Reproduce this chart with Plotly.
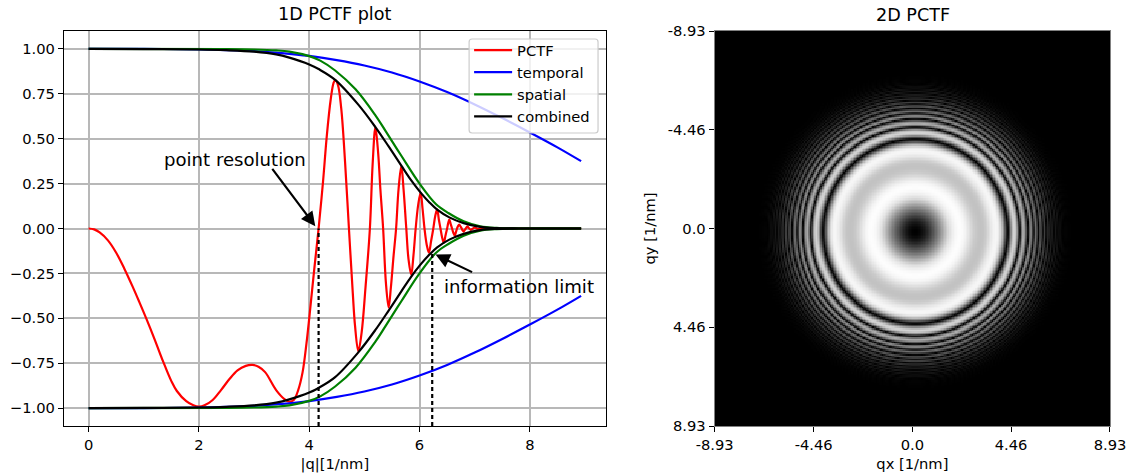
import numpy as np
import plotly.graph_objects as go

# ---- values ----
Q_PCTF = [0,0.1,0.2,0.35,0.5,0.65,0.8,0.92,1.05,1.2,1.35,1.5,1.6,1.77,1.9,2.0,2.1,2.25,2.4,2.55,2.7,2.85,2.97,3.08,3.2,3.4,3.55,3.64,3.72,3.8,3.88,3.95,4.0,4.09,4.17,
          4.25,4.32,4.39,4.44,4.47,4.52,4.58,4.65,4.72,4.79,4.83,4.89,4.95,5.02,5.10,5.15,5.20,5.25,5.29,5.34,5.39,5.44,5.48,5.53,5.575,5.62,5.67,5.71,5.76,5.80,5.85,5.89,5.93,5.975,6.02,6.055,6.09,6.13,6.17,6.21,6.25,6.285,6.32,6.35,6.38,6.41,6.44,6.47,6.5,6.52,6.54,6.57,6.59,6.615,6.64,6.66,6.68,6.7,6.72,6.745,6.765,6.78,6.8,6.82,6.84,6.855,6.87,6.885,6.9,6.915,6.93,6.95,6.97,7.01,7.035,7.06,7.09,7.13,7.16,7.25,8.0,8.93]
PCTF = [0,-0.005,-0.022,-0.066,-0.135,-0.225,-0.325,-0.41,-0.505,-0.62,-0.74,-0.85,-0.905,-0.962,-0.985,-0.992,-0.985,-0.955,-0.90,-0.84,-0.79,-0.765,-0.76,-0.77,-0.80,-0.90,-0.95,-0.965,-0.955,-0.90,-0.80,-0.64,-0.5,-0.23,0,
        0.26,0.52,0.72,0.81,0.827,0.80,0.67,0.37,0,-0.36,-0.54,-0.684,-0.58,-0.33,0,0.36,0.563,0.42,0.22,0,-0.3,-0.44,-0.33,-0.15,0,0.22,0.347,0.22,0,-0.17,-0.257,-0.15,0,0.13,0.2,0.11,0,-0.09,-0.135,-0.07,0,0.07,0.106,0.05,0,-0.05,-0.08,-0.04,0,0.03,0.05,0.02,0,-0.025,-0.04,-0.02,0,0.015,0.022,0.01,0,-0.01,-0.017,-0.008,0,0.007,0.012,0.006,0,-0.004,-0.008,-0.004,0,0.006,0,-0.003,0,0.002,0,0,0,0]

Q_TEMPORAL = [0,1,2,2.5,3,3.5,4,4.5,5,5.5,6,6.5,7,7.5,8,8.5,8.93]
TEMPORAL = [1,1,0.998,0.994,0.988,0.977,0.961,0.938,0.908,0.869,0.819,0.76,0.691,0.615,0.535,0.452,0.375]

Q_SPATIAL = [0,2.5,3,3.4,3.64,4,4.2,4.47,4.84,5.2,5.38,5.67,6.0,6.3,6.53,6.8,7.1,7.4,7.8,8.93]
SPATIAL = [1,0.999,0.997,0.992,0.985,0.96,0.935,0.88,0.775,0.63,0.545,0.405,0.25,0.135,0.085,0.04,0.012,0.003,0,0]

Q_COMBINED = [0,1,2,2.5,3,3.4,3.64,4,4.17,4.47,4.89,5.2,5.44,5.67,5.85,6.02,6.18,6.32,6.54,6.8,7.1,7.4,7.8,8.93]
COMBINED = [1,0.999,0.997,0.993,0.985,0.97,0.952,0.914,0.888,0.828,0.69,0.565,0.457,0.35,0.268,0.2,0.145,0.105,0.062,0.03,0.009,0.002,0,0]

POINT_RES_Q = 4.17
INFO_LIMIT_Q = 6.23
INFO_LIMIT_Y = -0.14
Y_BOTTOM = -1.1

X_TICKS = [0, 2, 4, 6, 8]
Y_TICKS = [-1.0, -0.75, -0.5, -0.25, 0, 0.25, 0.5, 0.75, 1.0]
Y_LABELS = ["\u22121.00", "\u22120.75", "\u22120.50", "\u22120.25", "0.00", "0.25", "0.50", "0.75", "1.00"]
IMG_TICKS = [-8.93, -4.46, 0, 4.46, 8.93]
IMG_LABELS = ["-8.93", "-4.46", "0.0", "4.46", "8.93"]
IMG_CENTER = 0.14

W, H = 1136, 476
L, R, T, B = 64, 1110.5, 31, 426   # plot area, px
PW, PH = R - L, B - T
FONT = "DejaVu Sans"
LW = 2.2
fig = go.Figure()


def px(x):
    return (x - L) / PW


def py(y):
    return (B - y) / PH


def neg(v):
    return [-a for a in v]


def curve(x, y, color, name=None):
    line = dict(color=color, width=LW, shape="spline", smoothing=1.0)
    fig.add_trace(go.Scatter(x=x, y=y, mode="lines", line=line, name=name or "",
                             showlegend=name is not None, legendgroup=name,
                             xaxis="x", yaxis="y"))


curve(Q_PCTF, PCTF, "#ff0000", "PCTF")
curve(Q_TEMPORAL, TEMPORAL, "#0000ff", "temporal")
curve(Q_TEMPORAL, neg(TEMPORAL), "#0000ff")
curve(Q_SPATIAL, SPATIAL, "#008000", "spatial")
curve(Q_SPATIAL, neg(SPATIAL), "#008000")
curve(Q_COMBINED, COMBINED, "#000000", "combined")
curve(Q_COMBINED, neg(COMBINED), "#000000")

for q, top in ((POINT_RES_Q, 0), (INFO_LIMIT_Q, INFO_LIMIT_Y)):
    fig.add_trace(go.Scatter(x=[q, q], y=[Y_BOTTOM, top], mode="lines", showlegend=False,
                             line=dict(color="#000000", width=LW, dash="4px,3px"),
                             xaxis="x", yaxis="y"))

# 2D image: the radial profile read above, swept round the centre
axis = np.linspace(-9.3, 9.3, 270)
xx, yy = np.meshgrid(axis, axis)
r = np.hypot(xx, yy)
z = np.abs(np.interp(r, Q_PCTF, PCTF))
fig.add_trace(go.Heatmap(x=axis + IMG_CENTER, y=axis + IMG_CENTER, z=z, zmin=0, zmax=1,
                         colorscale=[[0, "#000000"], [1, "#ffffff"]], showscale=False,
                         hoverinfo="skip", xaxis="x2", yaxis="y2"))

tick = dict(ticks="outside", ticklen=5, tickwidth=1.3, tickcolor="#000000", automargin=False,
            tickfont=dict(family=FONT, size=14.7, color="#000000"), zeroline=False)
title_font = dict(family=FONT, size=14.7, color="#000000")
GRID = dict(showgrid=True, gridcolor="#b8b8b8", gridwidth=1.6)
SPINE = dict(showline=True, mirror=True, linecolor="#000000", linewidth=1.4)
IMG_SPINE = dict(showline=True, mirror=True, linecolor="#808080", linewidth=1.2)
BIG = dict(family=FONT, size=17.6, color="#000000")
NOTE = dict(family=FONT, size=18.1, color="#000000")

# legend box, rounded like the reference
bx0, bx1, by0, by1 = px(469.3), px(598.3), py(39), py(133)
rx, ry = 3 / PW, 3 / PH
BOX_PATH = (f"M {bx0 + rx} {by0} L {bx1 - rx} {by0} Q {bx1} {by0} {bx1} {by0 - ry} "
            f"L {bx1} {by1 + ry} Q {bx1} {by1} {bx1 - rx} {by1} "
            f"L {bx0 + rx} {by1} Q {bx0} {by1} {bx0} {by1 + ry} "
            f"L {bx0} {by0 - ry} Q {bx0} {by0} {bx0 + rx} {by0} Z")

fig.update_layout(
    width=W, height=H, margin=dict(l=L, r=W - R, t=T, b=H - B), autosize=False,
    paper_bgcolor="#ffffff", plot_bgcolor="#ffffff", font=dict(family=FONT, color="#000000"),
    xaxis=dict(domain=[0, px(606)], range=[-0.4465, 9.3765], tickvals=X_TICKS,
               ticktext=[str(v) for v in X_TICKS],
               title=dict(text="|q|[1/nm]", font=title_font, standoff=6), **tick, **GRID, **SPINE),
    yaxis=dict(domain=[0, 1], range=[-1.1, 1.1], tickvals=Y_TICKS, ticktext=Y_LABELS,
               **tick, **GRID, **SPINE),
    xaxis2=dict(domain=[px(715), 1], range=[-8.93, 8.93], tickvals=IMG_TICKS,
                ticktext=IMG_LABELS, anchor="y2", showgrid=False,
                title=dict(text="qx [1/nm]", font=title_font, standoff=6), **tick, **IMG_SPINE),
    yaxis2=dict(domain=[0, 1], range=[8.93, -8.93], tickvals=IMG_TICKS, ticktext=IMG_LABELS,
                anchor="x2", showgrid=False,
                title=dict(text="qy [1/nm]", font=title_font, standoff=8), **tick, **IMG_SPINE),
    legend=dict(x=px(469.3), y=py(34), xanchor="left", yanchor="top",
                bgcolor="rgba(255,255,255,0)", borderwidth=0,
                font=dict(family=FONT, size=14.7, color="#000000"), tracegroupgap=0,
                itemwidth=38),
    showlegend=True,
    shapes=[dict(type="path", path=BOX_PATH, xref="paper", yref="paper", layer="above",
                 fillcolor="rgba(255,255,255,0.8)", line=dict(color="#cccccc", width=1.2))],
    annotations=[
        dict(text="1D PCTF plot", x=px(335), y=py(14), xref="paper", yref="paper",
             xanchor="center", yanchor="middle", showarrow=False, font=BIG),
        dict(text="2D PCTF", x=px(913), y=py(15), xref="paper", yref="paper",
             xanchor="center", yanchor="middle", showarrow=False, font=BIG),
        dict(text="point resolution", x=2.66, y=0.385, xref="x", yref="y",
             xanchor="center", yanchor="middle", showarrow=False, font=NOTE),
        dict(text="information limit", x=7.81, y=-0.325, xref="x", yref="y",
             xanchor="center", yanchor="middle", showarrow=False, font=NOTE),
        dict(text="", x=4.11, y=0.013, ax=3.31, ay=0.34, xref="x", yref="y", axref="x", ayref="y",
             showarrow=True, arrowhead=2, arrowsize=1.3, arrowwidth=2.2, arrowcolor="#000000"),
        dict(text="", x=6.29, y=-0.145, ax=6.98, ay=-0.247, xref="x", yref="y", axref="x", ayref="y",
             showarrow=True, arrowhead=2, arrowsize=1.3, arrowwidth=2.2, arrowcolor="#000000"),
    ],
)

fig.write_html("out.html", config={"displayModeBar": False},
               post_script="document.body.style.margin='0';")
